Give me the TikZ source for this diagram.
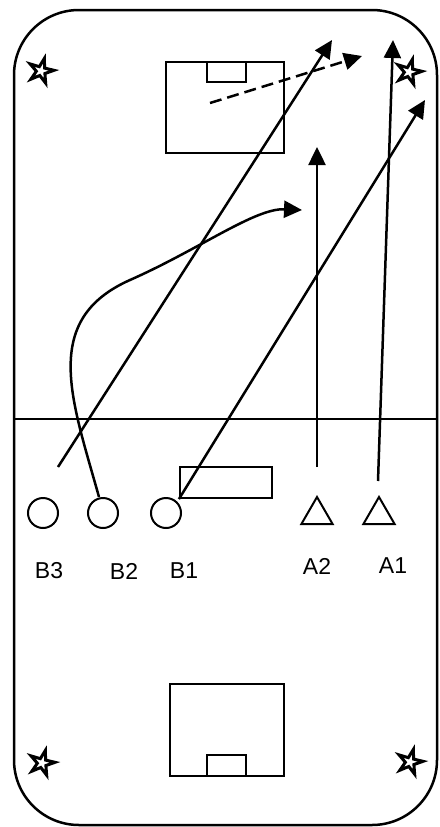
\documentclass[tikz,border=0pt]{standalone}
\usepackage{fontspec}
\setmainfont{Liberation Sans}
\usetikzlibrary{arrows.meta,shapes.geometric}
\begin{document}
\begin{tikzpicture}[x=1pt,y=-1pt,
  field/.style={line width=2.5pt},
  goalbox/.style={line width=2.2pt},
  player/.style={circle,draw,line width=2pt,minimum size=30pt,inner sep=0pt},
  opp/.style={regular polygon,regular polygon sides=3,draw,line width=2pt,minimum size=36pt,inner sep=0pt},
  cone/.style={star,star points=5,star point ratio=2.8,draw,line width=3pt,minimum size=26pt,inner sep=0pt,rotate=-15},
  lbl/.style={font=\fontsize{23}{26}\selectfont,inner sep=0pt},
  run/.style={line width=2.5pt,-{Triangle[length=18pt,width=17pt]}},
  pass/.style={run,dash pattern=on 12pt off 6pt}
]
\useasboundingbox (0,0) rectangle (439,827);
% pitch
\draw[field,rounded corners=65pt] (14,10) rectangle (437,825);
\draw[field] (14,419) -- (437,419);
% goals
\draw[goalbox] (166,62) rectangle (284,153);
\draw[goalbox] (207,62) rectangle (246,82);
\draw[goalbox] (170,684) rectangle (284,776);
\draw[goalbox] (207,755) rectangle (246,776);
% cones
\node[cone] (s1) at (41,71) {};
\node[cone] (s2) at (409,72) {};
\node[cone] (s3) at (42,763) {};
\node[cone] (s4) at (410,762) {};
% bench
\node[draw,goalbox,minimum width=92pt,minimum height=31pt,inner sep=0pt] (bench) at (226,482.5) {};
% players
\node[player] (b3) at (43,513) {};
\node[player] (b2) at (103,513) {};
\node[player] (b1) at (166,513) {};
\node[opp] (a2) at (317,515) {};
\node[opp] (a1) at (379,515) {};
% labels
\node[lbl] (lb3) at (49,571) {B3};
\node[lbl] (lb2) at (124,571) {B2};
\node[lbl] (lb1) at (184,571) {B1};
\node[lbl] (la2) at (317,566) {A2};
\node[lbl] (la1) at (393,566) {A1};
% arrow ends
\coordinate (p1s) at (58,467);
\coordinate (p1e) at (332,40);
\coordinate (p2e) at (425,100);
\coordinate (p3s) at (317,467);
\coordinate (p3e) at (317,147);
\coordinate (p4s) at (378,481);
\coordinate (p4e) at (393,40);
\coordinate (p5s) at (99,497);
\coordinate (p5e) at (302,210);
\coordinate (p6s) at (210,103);
\coordinate (p6e) at (362,56);
% runs
\draw[run] (p1s) -- (p1e);
\draw[run] (bench.south west) -- (p2e);
\draw[run] (p3s) -- (p3e);
\draw[run] (p4s) -- (p4e);
\draw[run] (p5s) .. controls (72,400) and (40,320) .. (130,280) .. controls (200,249) and (255,208) .. (p5e);
\draw[pass] (p6s) -- (p6e);
\end{tikzpicture}
\end{document}
